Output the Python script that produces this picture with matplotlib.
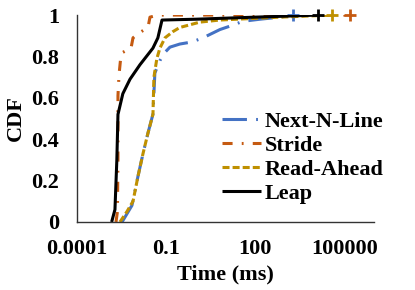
import matplotlib
matplotlib.use("Agg")
import matplotlib.pyplot as plt

plt.rcParams['font.family'] = ['Liberation Serif', 'DejaVu Serif']
plt.rcParams['font.weight'] = 'bold'
plt.rcParams['axes.labelweight'] = 'bold'
plt.rcParams['font.size'] = 16

# data (time in ms, cumulative fraction)
nnl_x = [0.0033, 0.0071, 0.0113, 0.0167, 0.0246, 0.036, 0.042, 0.062, 0.092,
         0.135, 0.29, 0.74, 1.75, 6.5, 16.6, 38.8, 145, 684, 1870]
nnl_y = [0, 0.08, 0.22, 0.33, 0.43, 0.52, 0.72, 0.78, 0.82,
         0.845, 0.86, 0.87, 0.89, 0.93, 0.95, 0.97, 0.98, 0.99, 1.0]

stride_x = [0.00206, 0.0023, 0.0024, 0.0024, 0.0026, 0.003, 0.0035, 0.0066,
            0.0077, 0.0113, 0.0246, 0.0287, 0.053, 156000]
stride_y = [0, 0.05, 0.3, 0.61, 0.71, 0.80, 0.82, 0.84,
            0.89, 0.91, 0.94, 0.99, 1.0, 1.0]

ra_x = [0.0028, 0.0048, 0.0077, 0.0113, 0.0167, 0.0246, 0.0362, 0.039, 0.049,
        0.062, 0.092, 0.17, 0.29, 1.38, 6.5, 684, 39000]
ra_y = [0, 0.05, 0.1, 0.22, 0.33, 0.43, 0.52, 0.70, 0.79,
        0.84, 0.89, 0.92, 0.94, 0.966, 0.976, 0.99, 1.0]

leap_x = [0.00147, 0.0019, 0.0022, 0.0024, 0.0035, 0.0061, 0.0132, 0.036,
          0.053, 0.073, 1.0, 100, 13000]
leap_y = [0, 0.06, 0.3, 0.52, 0.62, 0.69, 0.76, 0.84,
          0.89, 0.976, 0.98, 0.99, 1.0]

x_ticks = [0.0001, 0.1, 100, 100000]
x_labels = ["0.0001", "0.1", "100", "100000"]
y_ticks = [0, 0.2, 0.4, 0.6, 0.8, 1]
y_labels = ["0", "0.2", "0.4", "0.6", "0.8", "1"]

series = [
    ("Next-N-Line", nnl_x, nnl_y, '#4472C4', (8, 3, 0.6, 3)),
    ("Stride", stride_x, stride_y, '#C55A11', (3.3, 3, 0.6, 3)),
    ("Read-Ahead", ra_x, ra_y, '#BF9000', (2.3, 1.0)),
    ("Leap", leap_x, leap_y, '#000000', None),
]

fig = plt.figure(figsize=(4.15, 2.9), dpi=100)
ax = fig.add_axes([0.1855, 0.2345, 0.7155, 0.7135])

for name, xs, ys, col, dash in series:
    line, = ax.plot(xs, ys, color=col, lw=2.2, label=name, solid_capstyle='butt')
    if dash is not None:
        line.set_dashes(dash)
    ax.plot(xs[-1], ys[-1], marker='+', ms=8, mew=2, color=col, clip_on=False)

ax.set_xscale('log')
ax.set_xlim(1e-4, 1e6)
ax.set_ylim(0, 1)
ax.set_xticks(x_ticks)
ax.set_xticklabels(x_labels)
ax.minorticks_off()
ax.set_yticks(y_ticks)
ax.set_yticklabels(y_labels)
ax.tick_params(axis='both', length=0)
ax.tick_params(axis='y', pad=13)
ax.tick_params(axis='x', pad=12)

for s in ['top', 'right']:
    ax.spines[s].set_visible(False)
for s in ['left', 'bottom']:
    ax.spines[s].set_linewidth(1.0)
    ax.spines[s].set_color('#333333')

ax.set_xlabel("Time (ms)", labelpad=4)
ax.set_ylabel("CDF", labelpad=4)

ax.legend(loc='center left', bbox_to_anchor=(0.49, 0.312), frameon=False,
          borderaxespad=0, borderpad=0, handlelength=1.75, handletextpad=0.15,
          labelspacing=0.15)

fig.savefig("out.png", dpi=100)
